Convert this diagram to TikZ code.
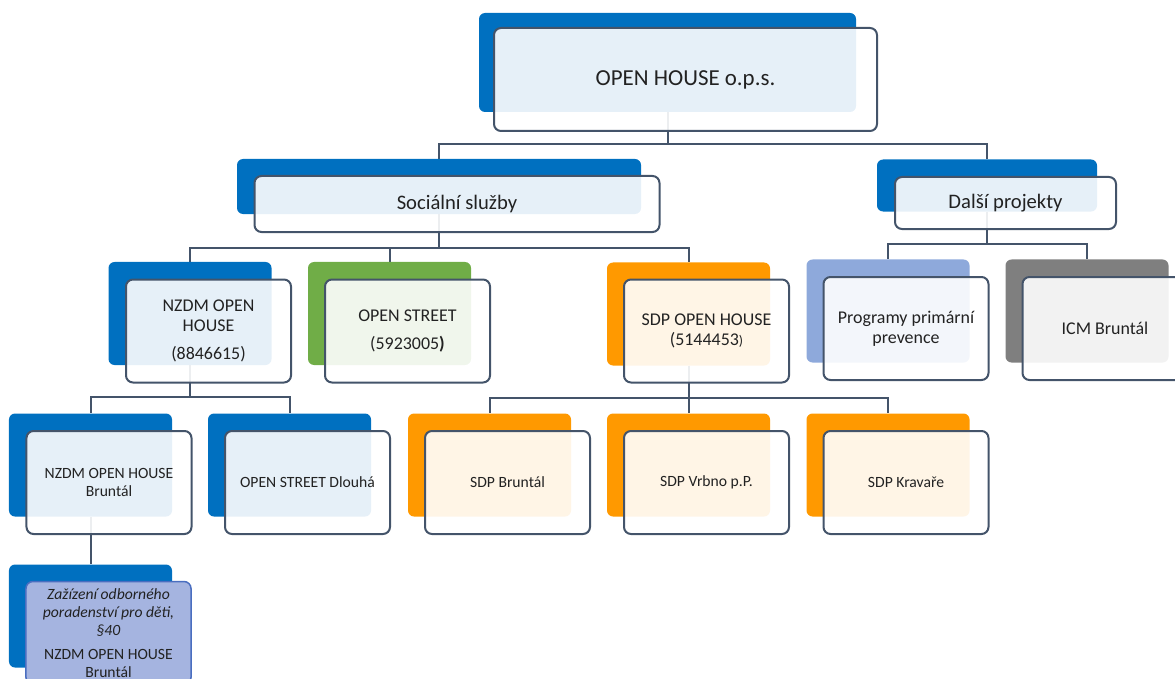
\documentclass[tikz,border=0pt]{standalone}
\usepackage{fontspec}
\setmainfont{Carlito}
\usepackage{tikz}
\usetikzlibrary{calc, backgrounds, positioning}
\definecolor{accBlue}{HTML}{0070C0}
\definecolor{accGreen}{HTML}{70AD47}
\definecolor{accOrange}{HTML}{FF9900}
\definecolor{accLight}{HTML}{8EA9DB}
\definecolor{accGray}{HTML}{7F7F7F}
\definecolor{lineDark}{HTML}{44546A}
\definecolor{textDark}{HTML}{222222}
\definecolor{lavFill}{HTML}{A5B4E0}
\definecolor{lavLine}{HTML}{4A6EC0}

\begin{document}
\begin{tikzpicture}[x=1bp, y=-1bp,
  back/.style={rectangle, rounded corners=6bp, fill=#1, draw=none, inner sep=0pt,
    minimum width=163bp, minimum height=103bp},
  front/.style={rectangle, rounded corners=7bp, draw=lineDark, line width=2bp,
    fill=white, fill opacity=0.9, text opacity=1, text=textDark, align=center,
    inner sep=2bp, minimum width=165bp, minimum height=103bp},
  link/.style={draw=lineDark, line width=2bp},
  lvlA/.style={font=\fontsize{23}{28}\selectfont},
  lvlB/.style={font=\fontsize{20.7}{25}\selectfont},
  lvlC/.style={font=\fontsize{18}{20}\selectfont},
  lvlD/.style={font=\fontsize{15.7}{18}\selectfont}]
\useasboundingbox (0,0) rectangle (1175,679);

%.... top
\node[back=accBlue, minimum width=377bp, minimum height=99bp] (ops-b) at (667.5,62.5) {};
\node[front, lvlA, minimum width=383bp] (ops) at ($(ops-b)+(18,17)$) {OPEN HOUSE o.p.s.};

%.... second row
\node[back=accBlue, minimum width=404bp, minimum height=55bp] (soc-b) at (439,186.5) {};
\node[front, lvlB, minimum width=405bp, minimum height=56bp] (soc) at ($(soc-b)+(18,17.5)$) {Sociální služby};
\node[back=accBlue, minimum width=220bp, minimum height=52bp] (dal-b) at (987,185.5) {};
\node[front, lvlB, minimum width=221bp, minimum height=52bp] (dal) at ($(dal-b)+(18.5,17.5)$) {Další projekty};

%.... third row
\node[back=accBlue] (nzdm-b) at (190,313.5) {};
\node[front, lvlC] (nzdm) at ($(nzdm-b)+(18.5,17.5)$) {NZDM OPEN\\ HOUSE\\[8bp] (8846615)};
\node[back=accGreen] (ost-b) at (389.5,313.5) {};
\node[front, lvlC] (ost) at ($(ost-b)+(18,17.5)$) {OPEN STREET\\[9bp] (5923005\textbf{)}};
\node[back=accOrange] (sdp-b) at (688.5,314) {};
\node[front, lvlC] (sdp) at ($(sdp-b)+(18,17)$) {SDP OPEN HOUSE\\ (5144453{\fontsize{14}{16}\selectfont )}};
\node[back=accLight] (ppp-b) at (888,311) {};
\node[front, lvlC] (ppp) at ($(ppp-b)+(18,17.5)$) {Programy primární\\ prevence};
\node[back=accGray] (icm-b) at (1087,311) {};
\node[front, lvlC] (icm) at ($(icm-b)+(18,17.5)$) {ICM Bruntál};

%.... fourth row
\node[back=accBlue] (nzb-b) at (90.5,465) {};
\node[front, lvlD] (nzb) at ($(nzb-b)+(18.5,17.5)$) {NZDM OPEN HOUSE\\ Bruntál};
\node[back=accBlue] (osd-b) at (289.5,465) {};
\node[front, lvlD] (osd) at ($(osd-b)+(18,17.5)$) {OPEN STREET Dlouhá};
\node[back=accOrange] (sdb-b) at (489.5,465) {};
\node[front, lvlD] (sdb) at ($(sdb-b)+(18,17.5)$) {SDP Bruntál};
\node[back=accOrange] (sdv-b) at (688.5,465) {};
\node[front, lvlD] (sdv) at ($(sdv-b)+(18,17.5)$) {SDP Vrbno p.P.};
\node[back=accOrange] (sdk-b) at (888,465) {};
\node[front, lvlD] (sdk) at ($(sdk-b)+(18,17.5)$) {SDP Kravaře};

%.... fifth row
\node[back=accBlue] (zop-b) at (90.5,616) {};
\node[front, lvlD, fill=lavFill, fill opacity=1, draw=lavLine, line width=1.5bp] (zop) at ($(zop-b)+(18,17)$)
  {\textit{Zažízení odborného}\\ \textit{poradenství pro děti,}\\ \textit{§40}\\[6bp] NZDM OPEN HOUSE\\ Bruntál};

%.... connectors behind the boxes
\begin{scope}[on background layer]
\draw[link] (ops-b.south) -- ++(0,32) -| (soc-b.north);
\draw[link] (ops-b.south) -- ++(0,32) -| (dal-b.north);
\draw[link] (soc-b.south) -- ++(0,33.5) -| (nzdm-b.north);
\draw[link] (soc-b.south) -- ++(0,33.5) -| (ost-b.north);
\draw[link] (soc-b.south) -- ++(0,33.5) -| (sdp-b.north);
\draw[link] (dal-b.south) -- ++(0,32.5) -| (ppp-b.north);
\draw[link] (dal-b.south) -- ++(0,32.5) -| (icm-b.north);
\draw[link] (nzdm-b.south) -- ++(0,32) -| (nzb-b.north);
\draw[link] (nzdm-b.south) -- ++(0,32) -| (osd-b.north);
\draw[link] (sdp-b.south) -- ++(0,32) -| (sdb-b.north);
\draw[link] (sdp-b.south) -- ++(0,32) -| (sdv-b.north);
\draw[link] (sdp-b.south) -- ++(0,32) -| (sdk-b.north);
\draw[link] (nzb-b.south) -- (zop-b.north);
\end{scope}
\end{tikzpicture}
\end{document}
